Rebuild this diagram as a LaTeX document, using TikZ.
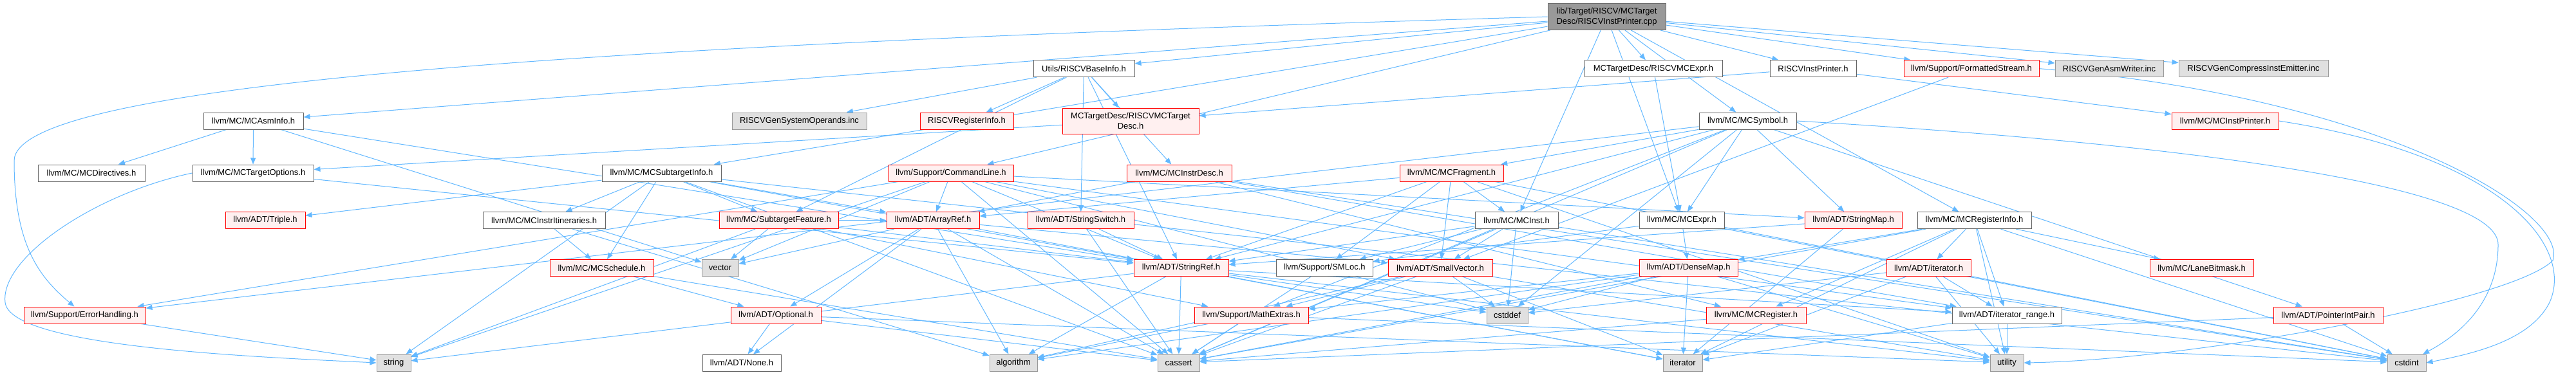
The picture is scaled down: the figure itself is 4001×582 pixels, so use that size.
\documentclass[tikz,border=0pt]{standalone}
\usepackage{fontspec}
\setmainfont{Liberation Sans}
\usetikzlibrary{arrows.meta}
\definecolor{edgeBlue}{HTML}{63B8FF}
\definecolor{boxGray}{HTML}{666666}
\definecolor{sysGray}{HTML}{999999}
\definecolor{sysFill}{HTML}{E0E0E0}
\definecolor{truncRed}{HTML}{FF0000}
\definecolor{truncFill}{HTML}{FFF0F0}
\definecolor{rootFill}{HTML}{999999}
\pgfdeclarelayer{edges}
\pgfsetlayers{edges,main}
\tikzset{
  box/.style={rectangle, minimum height=26pt, inner xsep=3pt, inner ysep=1pt,
    line width=1pt, font=\fontsize{13}{16}\selectfont},
  plain/.style={box, draw=boxGray, fill=white},
  trunc/.style={box, draw=truncRed, fill=truncFill},
  sys/.style={box, draw=sysGray, fill=sysFill},
  rootbox/.style={box, draw=boxGray, fill=rootFill, align=left, minimum height=41pt},
  dep/.style={draw=edgeBlue, line width=1pt, -{Triangle[length=10pt,width=8pt]}},
}

\begin{document}
\begin{tikzpicture}[x=1pt,y=-1pt]
    \useasboundingbox (0,0) rectangle (4001,582);

    % source file
    \node[rootbox, minimum width=183pt] (root) at (2495.5,26) {lib/Target/RISCV/MCTarget\\Desc/RISCVInstPrinter.cpp};

    % row 1
    \node[plain, minimum width=157pt] (baseinfo) at (1683.5,106.7) {Utils/RISCVBaseInfo.h};
    \node[plain, minimum width=214pt] (mcexprR) at (2568,106.7) {MCTargetDesc/RISCVMCExpr.h};
    \node[plain, minimum width=134pt] (printerh) at (2816,106.7) {RISCVInstPrinter.h};
    \node[trunc, minimum width=210pt] (fstream) at (3062,106.7) {llvm/Support/FormattedStream.h};
    \node[sys, minimum width=168pt] (asmwriter) at (3276,106.7) {RISCVGenAsmWriter.inc};
    \node[sys, minimum width=232pt] (compress) at (3500,106.7) {RISCVGenCompressInstEmitter.inc};

    % row 2
    \node[plain, minimum width=155pt] (asminfo) at (393.5,188) {llvm/MC/MCAsmInfo.h};
    \node[sys, minimum width=209pt] (sysops) at (1241.5,188) {RISCVGenSystemOperands.inc};
    \node[trunc, minimum width=145pt] (reginfoR) at (1501.5,188) {RISCVRegisterInfo.h};
    \node[trunc, minimum width=212pt, minimum height=40pt, align=center] (targetdesc) at (1756,188) {MCTargetDesc/RISCVMCTarget\\Desc.h};
    \node[plain, minimum width=151pt] (symbol) at (2714.5,188) {llvm/MC/MCSymbol.h};
    \node[trunc, minimum width=166pt] (instprinter) at (3456,188) {llvm/MC/MCInstPrinter.h};

    % row 3
    \node[plain, minimum width=166pt] (directives) at (142,269) {llvm/MC/MCDirectives.h};
    \node[plain, minimum width=188pt] (targetopts) at (393,269) {llvm/MC/MCTargetOptions.h};
    \node[plain, minimum width=185pt] (subtarget) at (1027.5,269) {llvm/MC/MCSubtargetInfo.h};
    \node[trunc, minimum width=194pt] (cmdline) at (1477,269) {llvm/Support/CommandLine.h};
    \node[trunc, minimum width=163pt] (instrdesc) at (1831.5,269) {llvm/MC/MCInstrDesc.h};
    \node[trunc, minimum width=161pt] (fragment) at (2254.5,269) {llvm/MC/MCFragment.h};

    % row 4
    \node[trunc, minimum width=124pt] (triple) at (412,342.6) {llvm/ADT/Triple.h};
    \node[plain, minimum width=190pt] (itin) at (845,342.6) {llvm/MC/MCInstrItineraries.h};
    \node[trunc, minimum width=185pt] (subfeat) at (1209.5,342.6) {llvm/MC/SubtargetFeature.h};
    \node[trunc, minimum width=144pt] (arrayref) at (1449,342.6) {llvm/ADT/ArrayRef.h};
    \node[trunc, minimum width=165pt] (strswitch) at (1678.5,342.6) {llvm/ADT/StringSwitch.h};
    \node[plain, minimum width=129pt] (mcinst) at (2355.5,342.6) {llvm/MC/MCInst.h};
    \node[plain, minimum width=132pt] (mcexpr) at (2612,342.6) {llvm/MC/MCExpr.h};
    \node[trunc, minimum width=151pt] (strmap) at (2878.5,342.6) {llvm/ADT/StringMap.h};
    \node[plain, minimum width=177pt] (reginfo) at (3066.5,342.6) {llvm/MC/MCRegisterInfo.h};

    % row 5
    \node[trunc, minimum width=161pt] (sched) at (934.5,416.5) {llvm/MC/MCSchedule.h};
    \node[sys, minimum width=57pt] (vector) at (1118.5,416.5) {vector};
    \node[trunc, minimum width=147pt] (strref) at (1834.5,416.5) {llvm/ADT/StringRef.h};
    \node[plain, minimum width=150pt] (smloc) at (2057,416.5) {llvm/Support/SMLoc.h};
    \node[trunc, minimum width=162pt] (smallvec) at (2237,416.5) {llvm/ADT/SmallVector.h};
    \node[trunc, minimum width=153pt] (densemap) at (2622.5,416.5) {llvm/ADT/DenseMap.h};
    \node[trunc, minimum width=131pt] (iterh) at (2995.5,416.5) {llvm/ADT/iterator.h};
    \node[trunc, minimum width=161pt] (lane) at (3419.5,416.5) {llvm/MC/LaneBitmask.h};

    % row 6
    \node[trunc, minimum width=189pt] (errh) at (131.5,490) {llvm/Support/ErrorHandling.h};
    \node[trunc, minimum width=140pt] (optional) at (1205,490) {llvm/ADT/Optional.h};
    \node[trunc, minimum width=177pt] (mathext) at (1943.5,490) {llvm/Support/MathExtras.h};
    \node[sys, minimum width=64pt] (cstddef) at (2341,490) {cstddef};
    \node[trunc, minimum width=155pt] (mcreg) at (2727.5,490) {llvm/MC/MCRegister.h};
    \node[plain, minimum width=170pt] (itrange) at (3117,490) {llvm/ADT/iterator\_range.h};
    \node[trunc, minimum width=170pt] (ptrint) at (3616,490) {llvm/ADT/PointerIntPair.h};

    % row 7 (system headers)
    \node[sys, minimum width=53pt] (string) at (611.5,564) {string};
    \node[plain, minimum width=122pt] (none) at (1152,564) {llvm/ADT/None.h};
    \node[sys, minimum width=74pt] (algorithm) at (1574,564) {algorithm};
    \node[sys, minimum width=65pt] (cassert) at (1830.5,564) {cassert};
    \node[sys, minimum width=61pt] (iterator) at (2613.5,564) {iterator};
    \node[sys, minimum width=52pt] (utility) at (3117,564) {utility};
    \node[sys, minimum width=60pt] (cstdint) at (3738,564) {cstdint};

    \begin{pgfonlayer}{edges}
    % includes of the source file
    \foreach \t in {baseinfo,mcexprR,printerh,fstream,asmwriter,compress,asminfo,subtarget,cmdline,mcinst,mcexpr,symbol,reginfo}
        \draw[dep] (root) -- (\t);
    \draw[dep] (root.west) .. controls (900,70) and (22,130) .. (22,250) .. controls (22,380) and (60,430) .. (errh);

    % target headers
    \foreach \t in {targetdesc,instprinter}
        \draw[dep] (printerh) -- (\t);
    \foreach \t in {sysops,reginfoR,targetdesc,instrdesc,strref,strswitch,subfeat}
        \draw[dep] (baseinfo) -- (\t);
    \draw[dep] (targetdesc) -- (targetopts);
    \draw[dep] (mcexprR) -- (mcexpr);
    \draw[dep] (instprinter.east) .. controls (3880,240) and (4000,380) .. (3960,470) .. controls (3930,530) and (3840,550) .. (cstdint.east);
    \draw[dep] (fstream) -- (smallvec);
    \draw[dep] (fstream.east) .. controls (3700,150) and (3990,330) .. (3965,405) .. controls (3900,470) and (3400,560) .. (utility.east);

    % MC headers
    \foreach \t in {directives,targetopts,vector,strref}
        \draw[dep] (asminfo) -- (\t);
    \draw[dep] (targetopts) -- (strref);
    \draw[dep] (targetopts.west) .. controls (150,300) and (0,400) .. (8,470) .. controls (15,540) and (400,555) .. (string.west);
    \foreach \t in {itin,sched,subfeat,triple,arrayref,strref,string,cassert,cstdint}
        \draw[dep] (subtarget) -- (\t);
    \foreach \t in {sched,algorithm}
        \draw[dep] (itin) -- (\t);
    \foreach \t in {optional,cassert}
        \draw[dep] (sched) -- (\t);
    \foreach \t in {vector,arrayref,strref,mathext,string}
        \draw[dep] (subfeat) -- (\t);
    \foreach \t in {arrayref,smallvec,strmap,strref,itrange,errh,cassert,cstddef,string,vector}
        \draw[dep] (cmdline) -- (\t);
    \foreach \t in {arrayref,mcreg,itrange,cstdint}
        \draw[dep] (instrdesc) -- (\t);
    \foreach \t in {fragment,mcexpr,strmap,strref,ptrint,errh,mathext,cassert,cstddef}
        \draw[dep] (symbol) -- (\t);
    \draw[dep] (symbol.east) .. controls (3500,230) and (3880,300) .. (3880,380) .. controls (3880,470) and (3820,520) .. (cstdint);
    \foreach \t in {mcinst,smloc,smallvec,arrayref,strref,cstdint,utility}
        \draw[dep] (fragment) -- (\t);
    \foreach \t in {smloc,smallvec,cstddef,strref,cassert,cstdint}
        \draw[dep] (mcinst) -- (\t);
    \foreach \t in {densemap,smloc,cstdint}
        \draw[dep] (mcexpr) -- (\t);
    \foreach \t in {densemap,iterh,mcreg,itrange,lane,cassert,cstdint,utility,iterator}
        \draw[dep] (reginfo) -- (\t);
    \draw[dep] (mcreg) -- (cassert);

    % ADT and Support headers
    \foreach \t in {smallvec,none,optional,algorithm,cassert,vector,iterator}
        \draw[dep] (arrayref) -- (\t);
    \foreach \t in {strref,cassert}
        \draw[dep] (strswitch) -- (\t);
    \foreach \t in {strref,iterator}
        \draw[dep] (strmap) -- (\t);
    \foreach \t in {algorithm,cassert,cstddef,string,itrange,utility,iterator}
        \draw[dep] (strref) -- (\t);
    \foreach \t in {mathext,cstddef,iterator,utility,algorithm,cassert}
        \draw[dep] (smallvec) -- (\t);
    \foreach \t in {iterator,utility,cassert,cstddef,algorithm,mathext}
        \draw[dep] (densemap) -- (\t);
    \foreach \t in {itrange,iterator,utility,cstddef}
        \draw[dep] (iterh) -- (\t);
    \foreach \t in {utility,iterator}
        \draw[dep] (itrange) -- (\t);
    \foreach \t in {none,cassert,utility}
        \draw[dep] (optional) -- (\t);
    \foreach \t in {cstdint,cassert}
        \draw[dep] (ptrint) -- (\t);
    \foreach \t in {algorithm,cassert,cstdint}
        \draw[dep] (mathext) -- (\t);
    \draw[dep] (smloc) -- (cassert);
    \draw[dep] (errh) -- (string);
    \end{pgfonlayer}
\end{tikzpicture}
\end{document}
